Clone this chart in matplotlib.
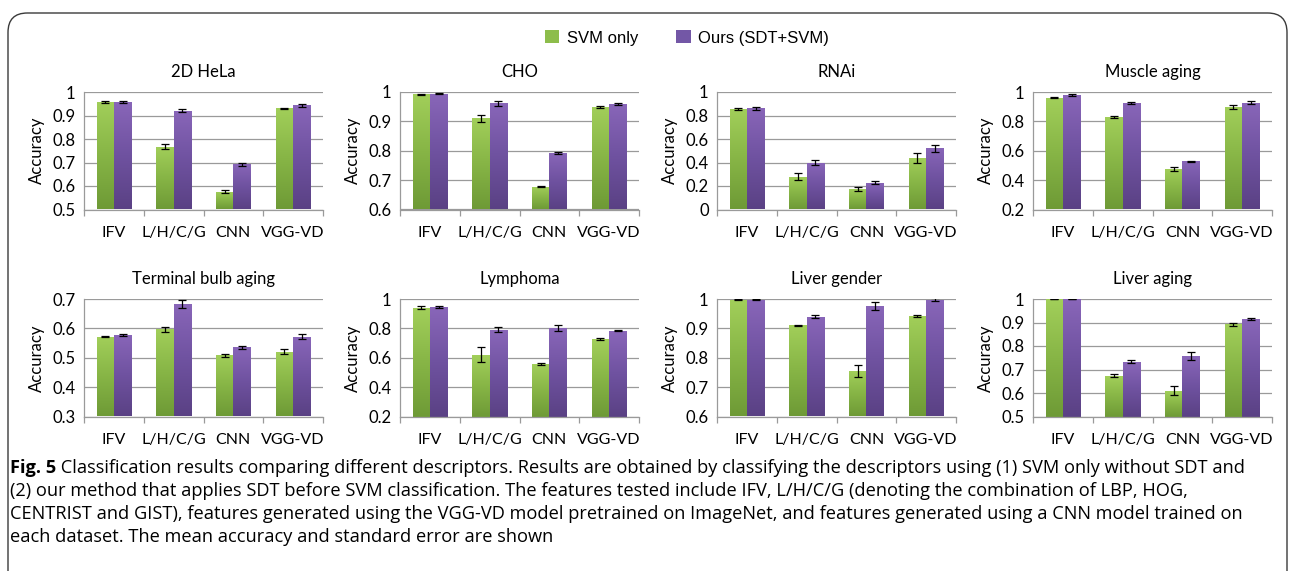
import numpy as np
import matplotlib
matplotlib.use("Agg")
import matplotlib.pyplot as plt
from matplotlib.patches import Patch, FancyBboxPatch
from matplotlib.colors import LinearSegmentedColormap
from matplotlib.ticker import FormatStrFormatter, MultipleLocator, FixedLocator, NullFormatter

# ---------------- data ----------------
categories = ["IFV", "L/H/C/G", "CNN", "VGG-VD"]
datasets = ["2D HeLa", "CHO", "RNAi", "Muscle aging",
            "Terminal bulb aging", "Lymphoma", "Liver gender", "Liver aging"]
series_names = ["SVM only", "Ours (SDT+SVM)"]

svm_mean = [
    [0.957, 0.767, 0.576, 0.930],
    [0.992, 0.911, 0.677, 0.948],
    [0.855, 0.280, 0.177, 0.440],
    [0.962, 0.830, 0.475, 0.898],
    [0.571, 0.597, 0.508, 0.521],
    [0.942, 0.622, 0.556, 0.725],
    [0.998, 0.910, 0.755, 0.943],
    [1.000, 0.674, 0.610, 0.893],
]
svm_err = [
    [0.005, 0.010, 0.006, 0.004],
    [0.002, 0.012, 0.002, 0.003],
    [0.010, 0.032, 0.017, 0.040],
    [0.005, 0.010, 0.013, 0.015],
    [0.002, 0.008, 0.005, 0.008],
    [0.010, 0.050, 0.008, 0.007],
    [0.003, 0.003, 0.020, 0.003],
    [0.001, 0.007, 0.020, 0.007],
]
ours_mean = [
    [0.958, 0.920, 0.692, 0.943],
    [0.994, 0.962, 0.792, 0.960],
    [0.860, 0.400, 0.227, 0.522],
    [0.980, 0.928, 0.527, 0.928],
    [0.577, 0.683, 0.535, 0.572],
    [0.944, 0.790, 0.803, 0.785],
    [0.998, 0.940, 0.977, 0.997],
    [1.000, 0.733, 0.757, 0.914],
]
ours_err = [
    [0.005, 0.007, 0.005, 0.005],
    [0.002, 0.008, 0.003, 0.004],
    [0.012, 0.020, 0.013, 0.030],
    [0.005, 0.007, 0.006, 0.008],
    [0.003, 0.012, 0.005, 0.008],
    [0.008, 0.018, 0.018, 0.006],
    [0.003, 0.004, 0.014, 0.005],
    [0.001, 0.007, 0.017, 0.005],
]
y_min = [0.5, 0.6, 0.0, 0.2, 0.3, 0.2, 0.6, 0.5]
y_max = [1.0, 1.0, 1.0, 1.0, 0.7, 1.0, 1.0, 1.0]
y_step = [0.1, 0.1, 0.2, 0.2, 0.1, 0.2, 0.1, 0.1]

caption_bold = "Fig. 5"
caption_lines = [
    " Classification results comparing different descriptors. Results are obtained by classifying the descriptors using (1) SVM only without SDT and",
    "(2) our method that applies SDT before SVM classification. The features tested include IFV, L/H/C/G (denoting the combination of LBP, HOG,",
    "CENTRIST and GIST), features generated using the VGG-VD model pretrained on ImageNet, and features generated using a CNN model trained on",
    "each dataset. The mean accuracy and standard error are shown",
]

# ---------------- style ----------------
W, H = 1293, 571
DPI = 100
fig = plt.figure(figsize=(W / DPI, H / DPI), dpi=DPI)
fig.patch.set_facecolor("white")

green_cmap = LinearSegmentedColormap.from_list("g", ["#6e9a36", "#87b546", "#a2cf5a"])
purple_cmap = LinearSegmentedColormap.from_list("p", ["#5a4184", "#6f52a0", "#8966b9"])
green_mid = "#8dbd4b"
purple_mid = "#7357a6"
grid_col = "#9a9a9a"
tick_font = "Lato"

ax_left_px = [84, 400, 717, 1033]
ax_w_px = 239
row_top_px = [92, 299]
ax_h_px = 117.5

bar_w = 0.29


def px_rect(x, top, w, h):
    return [x / W, 1 - (top + h) / H, w / W, h / H]


def gradient_bars(ax, container, cmap, ymin):
    grad = np.linspace(0, 1, 256).reshape(-1, 1)
    for p in container.patches:
        x0 = p.get_x()
        w = p.get_width()
        y1 = p.get_y() + p.get_height()
        y0 = max(p.get_y(), ymin)
        im = ax.imshow(grad, extent=(x0, x0 + w, y0, y1), aspect="auto",
                       cmap=cmap, origin="lower", zorder=2, interpolation="bilinear")
        im.set_clip_path(p)
        p.set_facecolor("none")
        p.set_edgecolor("none")


x = np.arange(len(categories))
for k, name in enumerate(datasets):
    r, c = divmod(k, 4)
    ax = fig.add_axes(px_rect(ax_left_px[c], row_top_px[r], ax_w_px, ax_h_px))
    lo, hi = y_min[k], y_max[k]
    ax.set_xlim(-0.5, len(categories) - 0.5)
    ax.set_ylim(lo, hi)

    b1 = ax.bar(x - bar_w / 2, np.array(svm_mean[k]) - lo, bar_w, bottom=lo, zorder=2)
    b2 = ax.bar(x + bar_w / 2, np.array(ours_mean[k]) - lo, bar_w, bottom=lo, zorder=2)
    gradient_bars(ax, b1, green_cmap, lo)
    gradient_bars(ax, b2, purple_cmap, lo)
    ax.errorbar(x - bar_w / 2, svm_mean[k], yerr=svm_err[k], fmt="none",
                ecolor="black", elinewidth=0.9, capsize=2.6, capthick=0.9, zorder=4)
    ax.errorbar(x + bar_w / 2, ours_mean[k], yerr=ours_err[k], fmt="none",
                ecolor="black", elinewidth=0.9, capsize=2.6, capthick=0.9, zorder=4)
    ax.set_xlim(-0.5, len(categories) - 0.5)
    ax.set_ylim(lo, hi)

    ax.yaxis.set_major_locator(MultipleLocator(y_step[k]))
    ax.yaxis.set_major_formatter(FormatStrFormatter("%g"))
    ax.yaxis.grid(True, color=grid_col, lw=0.9)
    ax.set_axisbelow(True)

    ax.set_xticks(x)
    ax.set_xticklabels(categories)
    ax.xaxis.set_minor_locator(FixedLocator(np.arange(-0.5, len(categories), 1.0)))
    ax.xaxis.set_minor_formatter(NullFormatter())
    ax.tick_params(axis="x", which="major", length=0, pad=12, labelsize=11.5)
    ax.tick_params(axis="x", which="minor", length=4, width=0.9, color=grid_col, direction="out")
    ax.tick_params(axis="y", length=0, pad=6, labelsize=12)
    for lab in ax.get_xticklabels() + ax.get_yticklabels():
        lab.set_fontfamily(tick_font)

    for s in ["top", "right"]:
        ax.spines[s].set_visible(False)
    for s in ["left", "bottom"]:
        ax.spines[s].set_color(grid_col)
        ax.spines[s].set_linewidth(0.9)

    ax.set_title(name, fontsize=12, fontfamily=tick_font, pad=11)
    ax.set_ylabel("Accuracy", fontsize=12, fontfamily=tick_font)
    ax.yaxis.set_label_coords(-0.165, 0.5)

# legend
handles = [Patch(facecolor=green_mid, edgecolor="none"),
           Patch(facecolor=purple_mid, edgecolor="none")]
fig.legend(handles, series_names, loc="center", bbox_to_anchor=(687 / W, 1 - 38 / H),
           ncol=2, frameon=False, prop={"family": "Liberation Sans", "size": 12},
           handlelength=0.85, handleheight=0.8, handletextpad=0.45, columnspacing=2.3)

# frame with rounded top corners
frame = FancyBboxPatch((8, -40), 1279, 53 + 40 + H - 66 + 0, transform=None,
                       boxstyle="round,pad=0,rounding_size=10",
                       facecolor="none", edgecolor="#3a3a3a", lw=1.0)
# place it in figure pixel coordinates (origin at bottom-left)
frame = FancyBboxPatch((8 / W, -0.2), 1279 / W, (1 - 13 / H) + 0.2,
                       transform=fig.transFigure,
                       boxstyle="round,pad=0,rounding_size=0.015",
                       mutation_aspect=W / H,
                       facecolor="none", edgecolor="#3a3a3a", lw=1.0)
fig.patches.append(frame)

# caption
cap_font = "Open Sans"
cap_size = 11.0
line_y = [468, 491, 514, 537]
bold = fig.text(10 / W, 1 - line_y[0] / H, caption_bold, fontsize=cap_size,
                fontfamily=cap_font, fontweight="bold", va="center", ha="left")
rest = fig.text(0, 0, caption_lines[0], fontsize=cap_size, fontfamily=cap_font, va="center", ha="left")
others = [fig.text(10 / W, 1 - yy / H, t, fontsize=cap_size, fontfamily=cap_font,
                   va="center", ha="left") for yy, t in zip(line_y[1:], caption_lines[1:])]

fig.canvas.draw()
r = fig.canvas.get_renderer()
bb = bold.get_window_extent(r)
rest.set_position(((bb.x1) / W, 1 - line_y[0] / H))
fig.canvas.draw()
total = rest.get_window_extent(r).x1 - 10
scale = (1252 - 10) / total
for t in [bold, rest] + others:
    t.set_fontsize(cap_size * scale)
fig.canvas.draw()
bb = bold.get_window_extent(r)
rest.set_position(((bb.x1) / W, 1 - line_y[0] / H))

fig.savefig("out.png", dpi=DPI)
